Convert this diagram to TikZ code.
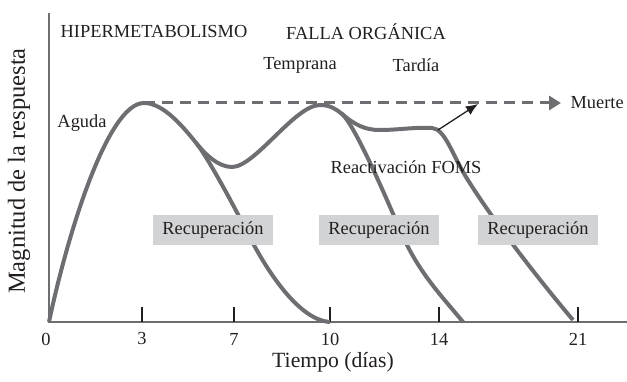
\documentclass[tikz,border=0pt]{standalone}
\usepackage{fontspec}
\setmainfont{Liberation Serif}
\usetikzlibrary{arrows.meta}
\definecolor{curvegray}{HTML}{6D6E71}
\definecolor{boxgray}{HTML}{D1D3D4}
\definecolor{inkdark}{HTML}{231F20}

\begin{document}
\begin{tikzpicture}[x=1pt,y=1pt,
    txt/.style={text=inkdark,font=\fontsize{18.4}{22}\selectfont},
    respcurve/.style={curvegray,line width=4pt},
    axisline/.style={curvegray,line width=2pt},
    tickmark/.style={inkdark,line width=1.6pt},
    recbox/.style={txt,fill=boxgray,minimum width=120pt,minimum height=30pt,inner sep=0pt}]
        \useasboundingbox (0,0) rectangle (627,382);

        \coordinate (o) at (49,60);
        \coordinate (ytop) at (49,369);
        \coordinate (xend) at (627,60);
        \draw[axisline] (ytop) -- (o) -- (xend);

        \draw[tickmark] (142,60) -- (142,75);
        \draw[tickmark] (234,60) -- (234,75);
        \draw[tickmark] (330,60) -- (330,75);
        \draw[tickmark] (439,60) -- (439,75);
        \draw[tickmark] (578,60) -- (578,75);

        \node[txt] (d0) at (46,43) {0};
        \node[txt] (d3) at (142,43) {3};
        \node[txt] (d7) at (234,43) {7};
        \node[txt] (d10) at (330,43) {10};
        \node[txt] (d14) at (439,43) {14};
        \node[txt] (d21) at (578,43) {21};

        \coordinate (p1) at (144,279);
        \coordinate (s1) at (197,238);
        \coordinate (m1) at (246,152);
        \coordinate (e1) at (330,60);
        \coordinate (v) at (232,215);
        \coordinate (p2) at (320,277);
        \coordinate (s2) at (342,268);
        \coordinate (m2) at (400,152);
        \coordinate (e2) at (463,60);
        \coordinate (q1) at (380,252);
        \coordinate (q2) at (432,254);
        \coordinate (m3) at (466,205);
        \coordinate (e3) at (573,62);

        \draw[respcurve] (o) .. controls (68,150) and (108,279) .. (p1)
            .. controls (164,279) and (184,254) .. (s1)
            .. controls (208,224) and (234,176) .. (m1)
            .. controls (262,120) and (296,62) .. (e1);
        \draw[respcurve] (s1) .. controls (205,228) and (218,215) .. (v)
            .. controls (255,215) and (295,277) .. (p2)
            .. controls (330,277) and (336,273) .. (s2)
            .. controls (355,257) and (388,180) .. (m2)
            .. controls (418,110) and (440,88) .. (e2);
        \draw[respcurve] (s2) .. controls (355,257) and (365,252) .. (q1)
            .. controls (398,252) and (415,255) .. (q2)
            .. controls (445,253) and (452,228) .. (m3)
            .. controls (495,158) and (545,95) .. (e3);

        \node[recbox] (rec1) at (213,152) {Recuperación};
        \node[recbox] (rec2) at (379,152) {Recuperación};
        \node[recbox] (rec3) at (538,152) {Recuperación};

        \node[txt] (hiper) at (154,350) {HIPERMETABOLISMO};
        \node[txt] (falla) at (366,350) {FALLA ORGÁNICA};
        \node[txt] (temprana) at (300,317) {Temprana};
        \node[txt] (tardia) at (416,317) {Tardía};
        \node[txt] (aguda) at (82,259) {Aguda};
        \node[txt] (reac) at (406,215) {Reactivación FOMS};
        \node[txt,anchor=west] (muerte) at (567,279) {Muerte};

        \coordinate (dend) at (561,279);
        \draw[curvegray,line width=3pt,dash pattern=on 11pt off 7pt,
            -{Triangle[length=12pt,width=14pt]}] (p1) -- (dend);

        \coordinate (foms) at (438,252);
        \coordinate (fomstip) at (478,278);
        \draw[inkdark,line width=1.3pt,-{Latex[length=12pt,width=10pt]}] (foms) -- (fomstip);

        \node[text=inkdark,font=\fontsize{21.7}{26}\selectfont] (tiempo) at (333,20) {Tiempo (días)};
        \node[text=inkdark,font=\fontsize{24.5}{29}\selectfont,rotate=90] (magnitud) at (19,211) {Magnitud de la respuesta};
      \end{tikzpicture}
\end{document}
